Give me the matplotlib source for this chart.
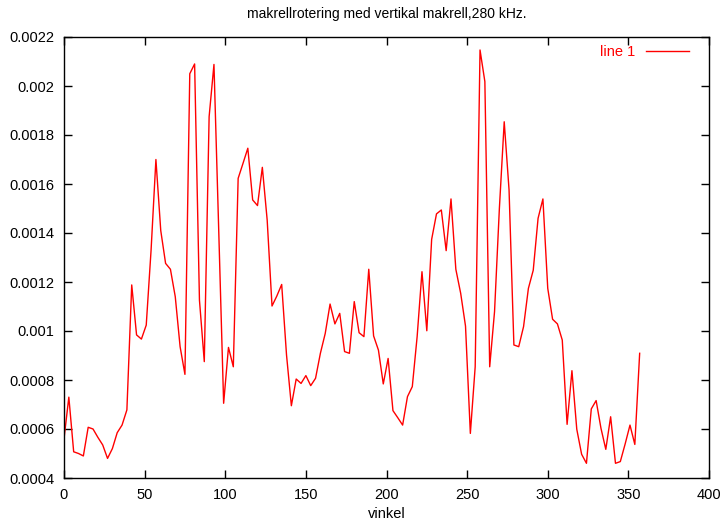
import matplotlib
matplotlib.use("Agg")
import matplotlib.pyplot as plt

plt.rcParams['font.family'] = ['Liberation Sans', 'DejaVu Sans']

# vinkel (degrees), sampled every 3 degrees
vinkel = list(range(0, 360, 3))
signal = [
    0.00056, 0.00073, 0.000507, 0.0005, 0.00049, 0.000607, 0.0006, 0.000566,
    0.000535, 0.00048, 0.00052, 0.000585, 0.000616, 0.000678, 0.001188, 0.000984,
    0.000967, 0.001024, 0.00133, 0.0017, 0.00141, 0.001276, 0.001252, 0.00114,
    0.000936, 0.000823, 0.00205, 0.00209, 0.001126, 0.000875, 0.001875, 0.002088,
    0.0014, 0.000705, 0.000933, 0.000854, 0.001623, 0.001684, 0.001746, 0.001535,
    0.001512, 0.001668, 0.001453, 0.001102, 0.001143, 0.00119, 0.000902, 0.000695,
    0.000804, 0.000786, 0.000818, 0.000777, 0.000807, 0.000909, 0.00099, 0.00111,
    0.001029, 0.001072, 0.000916, 0.000909, 0.00112, 0.000993, 0.000977, 0.001252,
    0.00098, 0.000922, 0.000784, 0.000888, 0.000675, 0.000646, 0.000616, 0.000732,
    0.000773, 0.000977, 0.001242, 0.001001, 0.001374, 0.001478, 0.001494, 0.001328,
    0.001539, 0.001252, 0.001154, 0.00102, 0.000582, 0.000854, 0.002147, 0.002018,
    0.000854, 0.001079, 0.0015, 0.001854, 0.001576, 0.000943, 0.000936, 0.001018,
    0.001174, 0.001248, 0.00146, 0.001539, 0.001174, 0.001048, 0.001029, 0.000963,
    0.000619, 0.000838, 0.000599, 0.000497, 0.00046, 0.000682, 0.000716, 0.000603,
    0.000517, 0.00065, 0.00046, 0.000467, 0.000539, 0.000616, 0.000537, 0.000909,
]
xticks = [0, 50, 100, 150, 200, 250, 300, 350, 400]
yticks = [0.0004, 0.0006, 0.0008, 0.001, 0.0012, 0.0014, 0.0016, 0.0018, 0.002, 0.0022]
ytick_labels = ['0.0004', '0.0006', '0.0008', '0.001', '0.0012', '0.0014',
                '0.0016', '0.0018', '0.002', '0.0022']

fig = plt.figure(figsize=(7.23, 5.23), dpi=100)
ax = fig.add_axes([64/723, 1 - 478/523, (709 - 64)/723, (478 - 37)/523])

ax.plot(vinkel, signal, color='red', linewidth=1.0, label='line 1')

ax.set_xlim(0, 400)
ax.set_ylim(0.0004, 0.0022)
ax.set_xticks(xticks)
ax.set_yticks(yticks)
ax.set_yticklabels(ytick_labels)
ax.tick_params(direction='in', length=6, width=1, top=True, right=True,
               labelsize=10.5, pad=7)
for s in ax.spines.values():
    s.set_linewidth(1.0)

ax.set_title('makrellrotering med vertikal makrell,280 kHz.', fontsize=10, pad=14)
ax.set_xlabel('vinkel', fontsize=10.5, labelpad=4)

# legend: text first, then the line sample, as gnuplot puts it
leg = ax.legend(loc='upper right', bbox_to_anchor=(0.982, 1.0), frameon=False,
                markerfirst=False, handlelength=2.95, fontsize=10.5,
                labelcolor='red', borderaxespad=0.15, handletextpad=0.75)

fig.savefig('out.png', dpi=100)
